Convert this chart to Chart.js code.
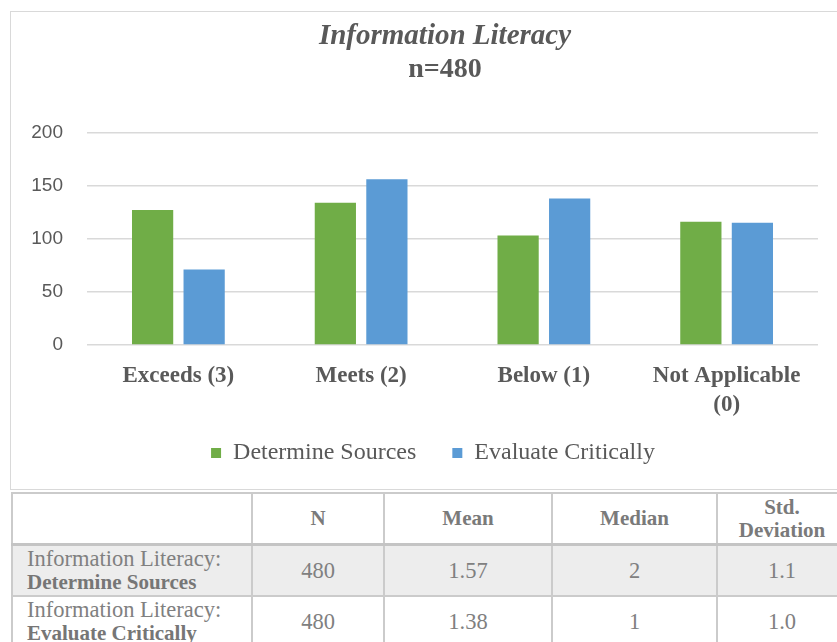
<!DOCTYPE html>
<html>
<head>
<meta charset="utf-8">
<script src="https://cdn.jsdelivr.net/npm/chart.js@4.4.0/dist/chart.umd.min.js"></script>
<style>
  html, body { margin: 0; padding: 0; background: #fff; overflow: hidden; width: 837px; height: 642px; }
  #chartBox { position: absolute; left: 10px; top: 11px; width: 900px; height: 477px; border: 1px solid #d9d9d9; }
  #chart { position: absolute; left: 0; top: 0; }
  #stats { position: absolute; left: 11px; top: 492px; border-collapse: collapse; table-layout: fixed; width: 835px;
    font-family: "Liberation Serif", "Times New Roman", serif; font-size: 22.5px; color: #808080; }
  #stats td, #stats th { border: 2px solid #cbcbcb; text-align: center; padding: 0; line-height: 23px; }
  #stats th { font-size: 21px; font-weight: bold; color: #7a7a7a; height: 49px; border-bottom: 3px solid #c4c4c4; }
  #stats td { height: 49px; }
  #stats td.label { text-align: left; padding-left: 14px; }
  #stats td.label b { font-size: 21px; color: #767676; }
  #stats tr.shade td { background: #ededed; }
</style>
</head>
<body>
<div id="chartBox"><canvas id="chart" width="868" height="477"></canvas></div>
<table id="stats"></table>
<script>
const categories = [['Exceeds (3)'], ['Meets (2)'], ['Below (1)'], ['Not Applicable', '(0)']];
const determineSources = [127, 134, 103, 116];
const evaluateCritically = [71, 156, 138, 115];
const yMin = 0;
const yMax = 200;
const yStep = 50;

const tableHeaders = ['', 'N', 'Mean', 'Median', 'Std.<br>Deviation'];
const rowLabels = ['Determine Sources', 'Evaluate Critically'];
const nValues = ['480', '480'];
const meanValues = ['1.57', '1.38'];
const medianValues = ['2', '1'];
const stdValues = ['1.1', '1.0'];

// table under the chart
const colWidths = [240, 132, 168, 165, 130];
let html = '<colgroup>' + colWidths.map(w => `<col style="width:${w}px">`).join('') + '</colgroup>';
html += '<tr>' + tableHeaders.map(h => `<th>${h}</th>`).join('') + '</tr>';
rowLabels.forEach((label, i) => {
  html += `<tr class="${i === 0 ? 'shade' : ''}">` +
    `<td class="label">Information Literacy:<br><b>${label}</b></td>` +
    `<td>${nValues[i]}</td><td>${meanValues[i]}</td><td>${medianValues[i]}</td><td>${stdValues[i]}</td></tr>`;
});
document.getElementById('stats').innerHTML = html;

const textColor = '#595959';
const serif = '"Liberation Serif", "Times New Roman", serif';

const ctx = document.getElementById('chart').getContext('2d');
new Chart(ctx, {
  type: 'bar',
  data: {
    labels: categories,
    datasets: [
      { label: 'Determine Sources', data: determineSources, backgroundColor: '#70ad47' },
      { label: 'Evaluate Critically', data: evaluateCritically, backgroundColor: '#5b9bd5' }
    ]
  },
  options: {
    responsive: false,
    animation: false,
    categoryPercentage: 0.564,
    barPercentage: 0.8,
    layout: { padding: { top: 0, left: 0, right: 0, bottom: 14 } },
    plugins: {
      title: {
        display: true,
        text: 'Information Literacy',
        color: textColor,
        font: { family: serif, size: 29, style: 'italic', weight: 'bold', lineHeight: 1.15 },
        padding: { top: 8, bottom: 0 }
      },
      subtitle: {
        display: true,
        text: 'n=480',
        color: textColor,
        font: { family: serif, size: 28, weight: 'bold', lineHeight: 1.15 },
        padding: { top: 0, bottom: 47 }
      },
      legend: {
        position: 'bottom',
        labels: {
          color: textColor,
          boxWidth: 10,
          boxHeight: 10,
          padding: 12,
          font: { family: serif, size: 24 },
          // trailing spaces widen the gap and pull the legend a bit left, like the original
          generateLabels: chart => Chart.defaults.plugins.legend.labels.generateLabels(chart)
            .map(item => Object.assign(item, { text: item.text + '    ' }))
        }
      },
      tooltip: { enabled: false }
    },
    scales: {
      x: {
        grid: { display: false },
        border: { display: false },
        ticks: {
          color: textColor,
          maxRotation: 0,
          autoSkip: false,
          padding: 9,
          font: { family: serif, size: 23, weight: 'bold', lineHeight: 1.25 }
        },
        afterFit: s => { s.height = 84; }
      },
      y: {
        min: yMin,
        max: yMax,
        grid: { color: '#d9d9d9', lineWidth: 1.5, drawTicks: false },
        border: { display: false },
        ticks: {
          stepSize: yStep,
          color: textColor,
          padding: 24,
          font: { family: '"Liberation Sans", Arial, sans-serif', size: 19 }
        },
        afterFit: s => { s.width = 76; }
      },
      spacer: {
        position: 'right',
        display: true,
        grid: { display: false },
        border: { display: false },
        ticks: { display: false },
        afterFit: s => { s.width = 61; }
      }
    }
  }
});
</script>
</body>
</html>
